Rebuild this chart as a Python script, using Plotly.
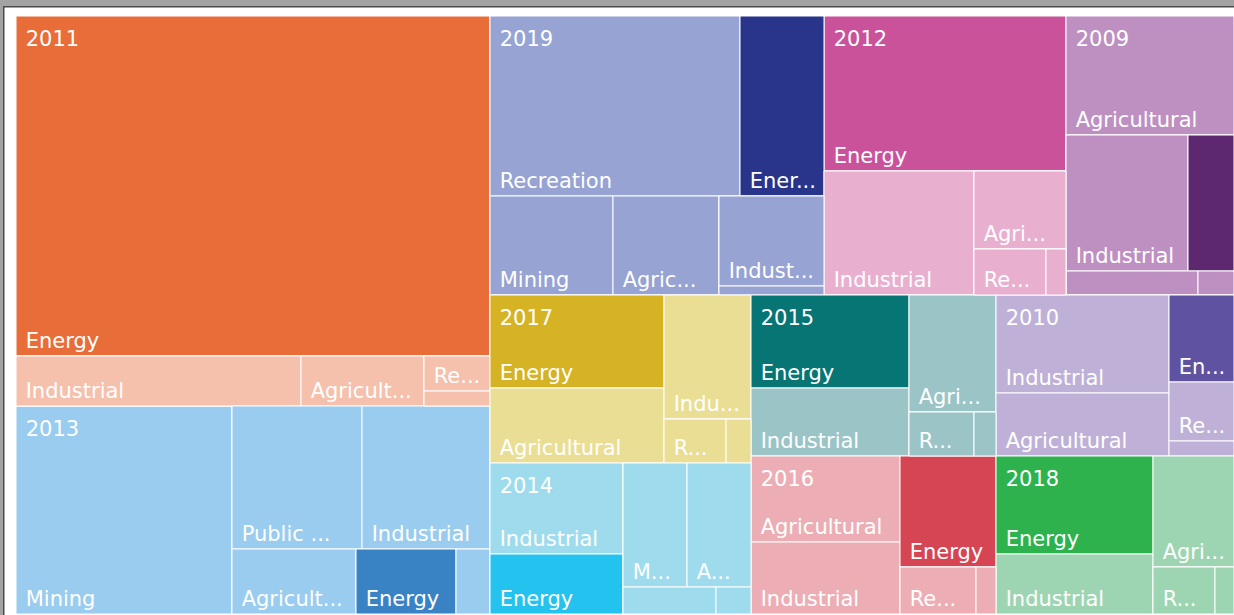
import plotly.graph_objects as go

# ---------------- data ----------------
years = ["2011", "2013", "2019", "2012", "2009", "2017", "2014", "2015", "2016", "2010", "2018"]

leaf_year = (["2011"] * 5 + ["2013"] * 6 + ["2019"] * 6 + ["2012"] * 5 + ["2009"] * 5 +
             ["2017"] * 5 + ["2014"] * 6 + ["2015"] * 5 + ["2016"] * 5 + ["2010"] * 5 + ["2018"] * 5)

leaf_sector = [
    "Energy", "Industrial", "Agricultural", "Recreation", "Mining",
    "Mining", "Public Supply", "Industrial", "Agricultural", "Energy", "Recreation",
    "Recreation", "Energy", "Mining", "Agricultural", "Industrial", "Public Supply",
    "Energy", "Industrial", "Agricultural", "Recreation", "Mining",
    "Agricultural", "Industrial", "Energy", "Recreation", "Mining",
    "Energy", "Agricultural", "Industrial", "Recreation", "Mining",
    "Industrial", "Energy", "Mining", "Agricultural", "Recreation", "Public Supply",
    "Energy", "Industrial", "Agricultural", "Recreation", "Mining",
    "Agricultural", "Industrial", "Energy", "Recreation", "Mining",
    "Industrial", "Agricultural", "Energy", "Recreation", "Mining",
    "Energy", "Industrial", "Agricultural", "Recreation", "Mining",
]

leaf_value = [
    161160, 14250, 6150, 2310, 990,
    44928, 18590, 18304, 8060, 6500, 2210,
    45000, 15120, 12177, 10494, 9450, 945,
    37510, 18600, 7176, 3312, 920,
    19992, 16592, 6256, 3168, 864,
    16182, 13050, 10788, 2728, 1100,
    12103, 7980, 7936, 7936, 2511, 945,
    14694, 10744, 10179, 2860, 968,
    12814, 10728, 10656, 3572, 940,
    16954, 10899, 5655, 3835, 975,
    15386, 9420, 8991, 2914, 893,
]

# label text as it is displayed (truncated like the reference)
leaf_shown = [
    "Energy", "Industrial", "Agricult...", "Re...", "",
    "Mining", "Public ...", "Industrial", "Agricult...", "Energy", "",
    "Recreation", "Ener...", "Mining", "Agric...", "Indust...", "",
    "Energy", "Industrial", "Agri...", "Re...", "",
    "Agricultural", "Industrial", "", "", "",
    "Energy", "Agricultural", "Indu...", "R...", "",
    "Industrial", "Energy", "M...", "A...", "", "",
    "Energy", "Industrial", "Agri...", "R...", "",
    "Agricultural", "Industrial", "Energy", "Re...", "",
    "Industrial", "Agricultural", "En...", "Re...", "",
    "Energy", "Industrial", "Agri...", "R...", "",
]

# arrangement of the tiles (grouping blocks for the slice-dice tiling)
leaf_block = [
    "", "b", "b", "b/r", "b/r",
    "", "x/t", "x/t", "x/b", "x/b", "x/b",
    "t", "t", "b", "b", "b/i", "b/i",
    "", "b", "b/x", "b/x/y", "b/x/y",
    "", "m", "m", "s", "s",
    "l", "l", "r", "r/s", "r/s",
    "l", "l", "r/t", "r/t", "r/s", "r/s",
    "l", "l", "r", "r/s", "r/s",
    "l", "l", "r", "r/s", "r/s",
    "l", "l", "r", "r", "r",
    "l", "l", "r", "r/s", "r/s",
]
year_block = {"2011": "L/L1", "2013": "L", "2019": "R/RT", "2012": "R/RT", "2009": "R/RT",
              "2017": "R/RB/C1", "2014": "R/RB/C1", "2015": "R/RB/C2", "2016": "R/RB/C2",
              "2010": "R/RB/C3", "2018": "R/RB/C3"}

# colours: highlighted (Energy) and dimmed shades per year
year_color = {"2011": "#E96D39", "2013": "#3983C5", "2019": "#29358A", "2012": "#C9529A",
              "2009": "#5D286F", "2017": "#D6B325", "2015": "#077574", "2010": "#5F52A1",
              "2014": "#24C2EF", "2016": "#D64553", "2018": "#2EB24E"}
year_light = {"2011": "#F5C0AC", "2013": "#99CCEE", "2019": "#96A3D3", "2012": "#E9AFCF",
              "2009": "#BE90C2", "2017": "#EADE95", "2015": "#9BC4C7", "2010": "#BEB0D6",
              "2014": "#9EDBEC", "2016": "#ECAEB4", "2018": "#9DD4B1"}

# ---------------- build hierarchy ----------------
ids, labels, parents, values, colors, text_a, text_b = [], [], [], [], [], [], []
seen = set()


def node(nid, label, parent, value=0, color="white", ta="", tb=""):
    ids.append(nid)
    labels.append(label)
    parents.append(parent)
    values.append(value)
    colors.append(color)
    text_a.append(ta)
    text_b.append(tb)
    seen.add(nid)


def chain(base, path, parent, color):
    if not path:
        return parent
    acc = base
    for part in path.split("/"):
        acc = acc + "/" + part
        if acc not in seen:
            node(acc, " ", parent, 0, color)
        parent = acc
    return parent


node("root", " ", "")
titled = set()
NB = "\u00a0"
for y, s, v, shown, blk in zip(leaf_year, leaf_sector, leaf_value, leaf_shown, leaf_block):
    p = chain("blk", year_block[y], "root", "white")
    yid = "y" + y
    if yid not in seen:
        node(yid, y, p, 0, year_light[y])
    p = chain(yid, blk, yid, year_light[y])
    col = year_color[y] if s == "Energy" else year_light[y]
    tb = "" if y in titled else NB + y
    titled.add(y)
    node(yid + "|" + s, s, p, v, col, (NB + shown) if shown else "", tb)

FONT = "DejaVu Sans, sans-serif"
FS = 21
H = 623          # figure height (page is clipped to the 615 px window)
PLOT_H = H - 17  # plot-area height
SHIFT = 8        # year captions sit a little below the tile top

fig = go.Figure()
fig.add_trace(go.Treemap(
    ids=ids, labels=labels, parents=parents, values=values,
    branchvalues="remainder", sort=False,
    tiling=dict(packing="slice-dice", pad=0),
    domain=dict(x=[0, 1], y=[SHIFT / PLOT_H, 1]),
    marker=dict(colors=colors, line=dict(color="white", width=1),
                pad=dict(t=0, l=0, r=0, b=0), depthfade=False),
    text=text_a, texttemplate="%{text}", textposition="bottom left",
    textfont=dict(family=FONT, size=FS, color="white"),
    pathbar=dict(visible=False), root=dict(color="white"),
    hoverinfo="skip",
))
fig.add_trace(go.Treemap(
    ids=ids, labels=labels, parents=parents, values=values,
    branchvalues="remainder", sort=False,
    tiling=dict(packing="slice-dice", pad=0),
    domain=dict(x=[0, 1], y=[0, 1 - SHIFT / PLOT_H]),
    marker=dict(colors=["rgba(0,0,0,0)"] * len(ids), line=dict(color="rgba(0,0,0,0)", width=0),
                pad=dict(t=0, l=0, r=0, b=0), depthfade=False),
    text=text_b, texttemplate="%{text}", textposition="top left",
    textfont=dict(family=FONT, size=FS, color="white"),
    pathbar=dict(visible=False), root=dict(color="rgba(0,0,0,0)"),
    hoverinfo="skip",
))

frame = [
    dict(x0=-16, x1=1230, y0=16, y1=10, color="#A3A3A3"),
    dict(x0=-16, x1=1230, y0=10, y1=8.5, color="#4A4A4A"),
    dict(x0=-16, x1=-13, y0=16, y1=-620, color="#A3A3A3"),
    dict(x0=-13, x1=-11.5, y0=10, y1=-620, color="#4A4A4A"),
]
shapes = [dict(type="rect", xref="paper", yref="paper", xsizemode="pixel", ysizemode="pixel",
               xanchor=0, yanchor=1, x0=f["x0"], x1=f["x1"], y0=f["y0"], y1=f["y1"],
               fillcolor=f["color"], line=dict(width=0), layer="above") for f in frame]

fig.update_layout(
    width=1234, height=H,
    margin=dict(l=16, r=0, t=16, b=1),
    paper_bgcolor="white",
    uniformtext=dict(minsize=FS, mode="hide"),
    shapes=shapes,
    showlegend=False,
)

fig.write_html(
    "out.html", config={"displayModeBar": False},
    post_script=("document.body.style.margin='0';document.body.style.overflow='hidden';"
                 "var g=document.getElementById('{plot_id}');"
                 "g.parentElement.style.height='615px';g.parentElement.style.overflow='hidden';"),
)
